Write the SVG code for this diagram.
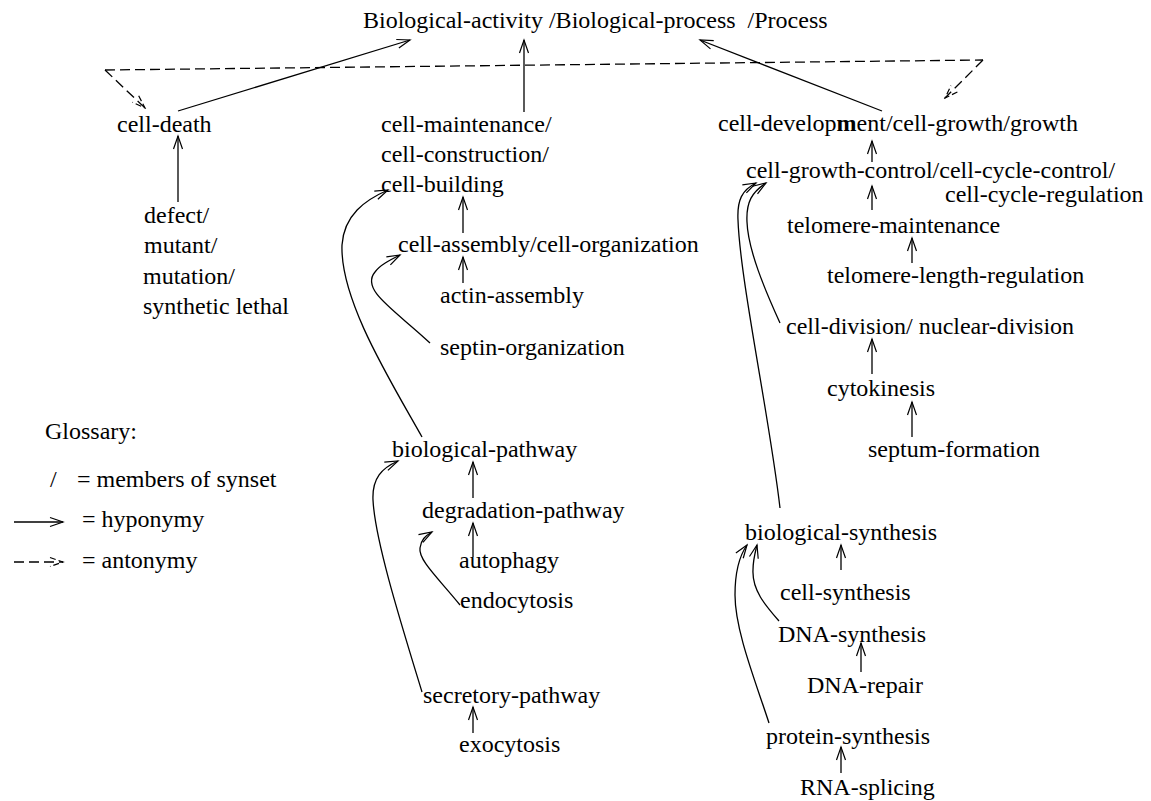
<svg xmlns="http://www.w3.org/2000/svg" width="1151" height="801" viewBox="0 0 1151 801">
<defs>
<marker id="ah" markerUnits="userSpaceOnUse" markerWidth="16" markerHeight="12" viewBox="-14 -6 16 12" refX="0" refY="0" orient="auto">
<path d="M-13,-4.5 L0,0 L-13,4.5" fill="none" stroke="#000" stroke-width="1.2"/>
</marker>
<marker id="ahd" markerUnits="userSpaceOnUse" markerWidth="16" markerHeight="12" viewBox="-14 -6 16 12" refX="0" refY="0" orient="auto">
<path d="M-13,-4.5 L0,0 L-13,4.5" fill="none" stroke="#000" stroke-width="1.2" stroke-dasharray="6,3"/>
</marker>
</defs>
<style>
text { font-family: "Liberation Serif", "Times New Roman", serif; font-size: 24px; fill: #000; }
.l { fill: none; stroke: #000; stroke-width: 1.3; marker-end: url(#ah); }
.d { fill: none; stroke: #000; stroke-width: 1.3; stroke-dasharray: 10,5; }
.da { fill: none; stroke: #000; stroke-width: 1.3; stroke-dasharray: 10,5; marker-end: url(#ahd); }
</style>
<rect width="1151" height="801" fill="#fff"/>
<g id="connectors">
<path class="d" d="M105,70 L983,60"/>
<path class="da" d="M105,70 L145,108"/>
<path class="da" d="M983,60 L945,98"/>
<path class="l" d="M178,111 L410,40"/>
<path class="l" d="M524,112 L524,40"/>
<path class="l" d="M882,111 L700,40"/>
<path class="l" d="M178,202 L178,136"/>
<path class="l" d="M463,233 L463,197"/>
<path class="l" d="M463,283 L463,257"/>
<path class="l" d="M430,343 C395,310 360,290 375,272 C380,265 390,260 400,255"/>
<path class="l" d="M422,437 C390,380 340,300 342,245 C344,215 365,200 388,190"/>
<path class="l" d="M872,162 L872,141"/>
<path class="l" d="M872,210 L872,186"/>
<path class="l" d="M912,263 L912,238"/>
<path class="l" d="M872,374 L872,339"/>
<path class="l" d="M912,437 L912,402"/>
<path class="l" d="M780,323 C765,290 748,250 747,222 C746,202 752,192 766,183"/>
<path class="l" d="M780,508 C770,420 740,280 738,220 C737,200 742,190 756,183"/>
<path class="l" d="M473,498 L473,462"/>
<path class="l" d="M473,557 L473,523"/>
<path class="l" d="M460,605 C440,580 418,560 420,548 C421,540 425,536 432,532"/>
<path class="l" d="M422,692 C400,620 375,540 373,500 C372,478 382,468 398,461"/>
<path class="l" d="M473,733 L473,707"/>
<path class="l" d="M841,570 L841,545"/>
<path class="l" d="M861,672 L861,643"/>
<path class="l" d="M841,773 L841,747"/>
<path class="l" d="M779,621 C765,605 752,590 753,570 C753,560 755,553 757,545"/>
<path class="l" d="M769,723 C755,680 735,630 735,595 C735,570 740,555 747,545"/>
<path class="l" d="M14,522 L63,522"/>
<path class="da" d="M14,562 L63,562"/>
</g>
<g id="title"><text x="363" y="28" xml:space="preserve">Biological-activity /Biological-process  /Process</text></g>
<g id="cell-death"><text x="117" y="132">cell-death</text></g>
<g id="defect"><text x="144" y="223">defect/</text><text x="144" y="253">mutant/</text><text x="143" y="284">mutation/</text><text x="143" y="314">synthetic lethal</text></g>
<g id="cell-maintenance"><text x="381" y="132">cell-maintenance/</text><text x="381" y="162">cell-construction/</text><text x="381" y="192">cell-building</text></g>
<g id="cell-assembly"><text x="398" y="252">cell-assembly/cell-organization</text></g>
<g id="actin-assembly"><text x="440" y="303">actin-assembly</text></g>
<g id="septin-organization"><text x="440" y="355">septin-organization</text></g>
<g id="cell-development"><text x="718" y="131">cell-develop<tspan font-weight="bold">m</tspan>ent/cell-growth/growth</text></g>
<g id="cell-growth-control"><text x="746" y="178">cell-growth-control/cell-cycle-control/</text><text x="945" y="202">cell-cycle-regulation</text></g>
<g id="telomere-maintenance"><text x="787" y="233">telomere-maintenance</text></g>
<g id="telomere-length-regulation"><text x="827" y="283">telomere-length-regulation</text></g>
<g id="cell-division"><text x="786" y="334">cell-division/ nuclear-division</text></g>
<g id="cytokinesis"><text x="827" y="396">cytokinesis</text></g>
<g id="septum-formation"><text x="868" y="457">septum-formation</text></g>
<g id="glossary"><text x="45" y="439">Glossary:</text><text x="50" y="487">/</text><text x="77" y="487">= members of synset</text><text x="82" y="527">= hyponymy</text><text x="82" y="568">= antonymy</text></g>
<g id="biological-pathway"><text x="392" y="457">biological-pathway</text></g>
<g id="degradation-pathway"><text x="422" y="518">degradation-pathway</text></g>
<g id="autophagy"><text x="459" y="568">autophagy</text></g>
<g id="endocytosis"><text x="460" y="608">endocytosis</text></g>
<g id="secretory-pathway"><text x="423" y="703">secretory-pathway</text></g>
<g id="exocytosis"><text x="459" y="752">exocytosis</text></g>
<g id="biological-synthesis"><text x="745" y="540">biological-synthesis</text></g>
<g id="cell-synthesis"><text x="780" y="600">cell-synthesis</text></g>
<g id="DNA-synthesis"><text x="778" y="642">DNA-synthesis</text></g>
<g id="DNA-repair"><text x="807" y="693">DNA-repair</text></g>
<g id="protein-synthesis"><text x="766" y="744">protein-synthesis</text></g>
<g id="RNA-splicing"><text x="800" y="795">RNA-splicing</text></g>
</svg>
